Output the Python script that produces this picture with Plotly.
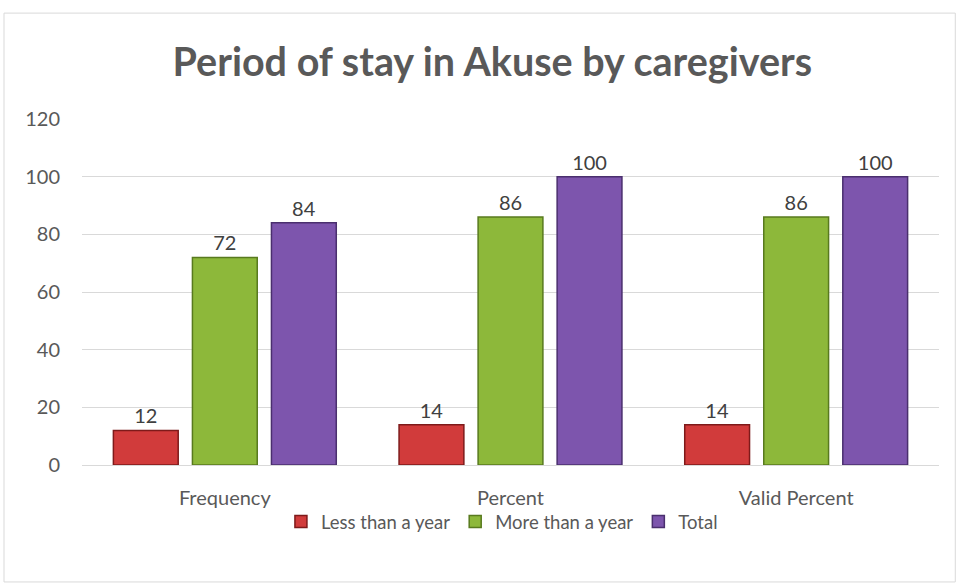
import plotly.graph_objects as go

categories = ["Frequency", "Percent", "Valid Percent"]
less_than_year = [12, 14, 14]
more_than_year = [72, 86, 86]
total = [84, 100, 100]
series_names = ["Less than a year", "More than a year", "Total"]
y_ticks = [0, 20, 40, 60, 80, 100, 120]

colors = ["#D13B3B", "#8DB83A", "#7D55AD"]
edges = ["#7E1A1A", "#587A1E", "#4A2F6E"]

fig = go.Figure()
for name, vals, c, e in zip(series_names, [less_than_year, more_than_year, total], colors, edges):
    fig.add_trace(go.Bar(
        x=categories, y=vals, name=name,
        marker=dict(color=c, line=dict(color=e, width=1.5)),
        text=[str(v) for v in vals], textposition="outside",
        textfont=dict(size=20, color="#404040", family="Lato"),
        cliponaxis=False,
    ))

fig.update_layout(
    width=956, height=583,
    margin=dict(l=82, r=17, t=119, b=118),
    paper_bgcolor="white", plot_bgcolor="white",
    barmode="group", bargap=0.17, bargroupgap=0.18,
    font=dict(family="Lato", color="#595959", size=18),
    title=dict(text="<b>Period of stay in Akuse by caregivers</b>",
               x=0.515, xref="container", y=0.893, yref="container",
               xanchor="center", yanchor="middle",
               font=dict(size=39.5, color="#595959", family="Lato")),
    legend=dict(orientation="h", x=0.49, xanchor="center", y=-0.165, yanchor="middle",
                font=dict(size=18.5, color="#595959"), itemwidth=30,
                bgcolor="rgba(0,0,0,0)", traceorder="normal"),
    xaxis=dict(showgrid=False, showline=True, linecolor="#D9D9D9", linewidth=1,
               ticks="", ticklabelstandoff=15, tickfont=dict(size=20, color="#595959")),
    yaxis=dict(range=[0, 120], tickvals=y_ticks, showgrid=True, gridcolor="#D9D9D9",
               gridwidth=1, zeroline=False, showline=False, ticks="",
               ticklabelstandoff=21, tickfont=dict(size=20, color="#595959")),
    shapes=[dict(type="rect", xref="paper", yref="paper",
                 x0=-0.091, x1=1.019, y0=-0.338, y1=1.306,
                 line=dict(color="#D9D9D9", width=1), fillcolor="rgba(0,0,0,0)",
                 layer="below")],
)

fig.write_html("out.html", config={"displayModeBar": False},
               post_script="document.body.style.margin='0';document.body.style.overflow='hidden';")
